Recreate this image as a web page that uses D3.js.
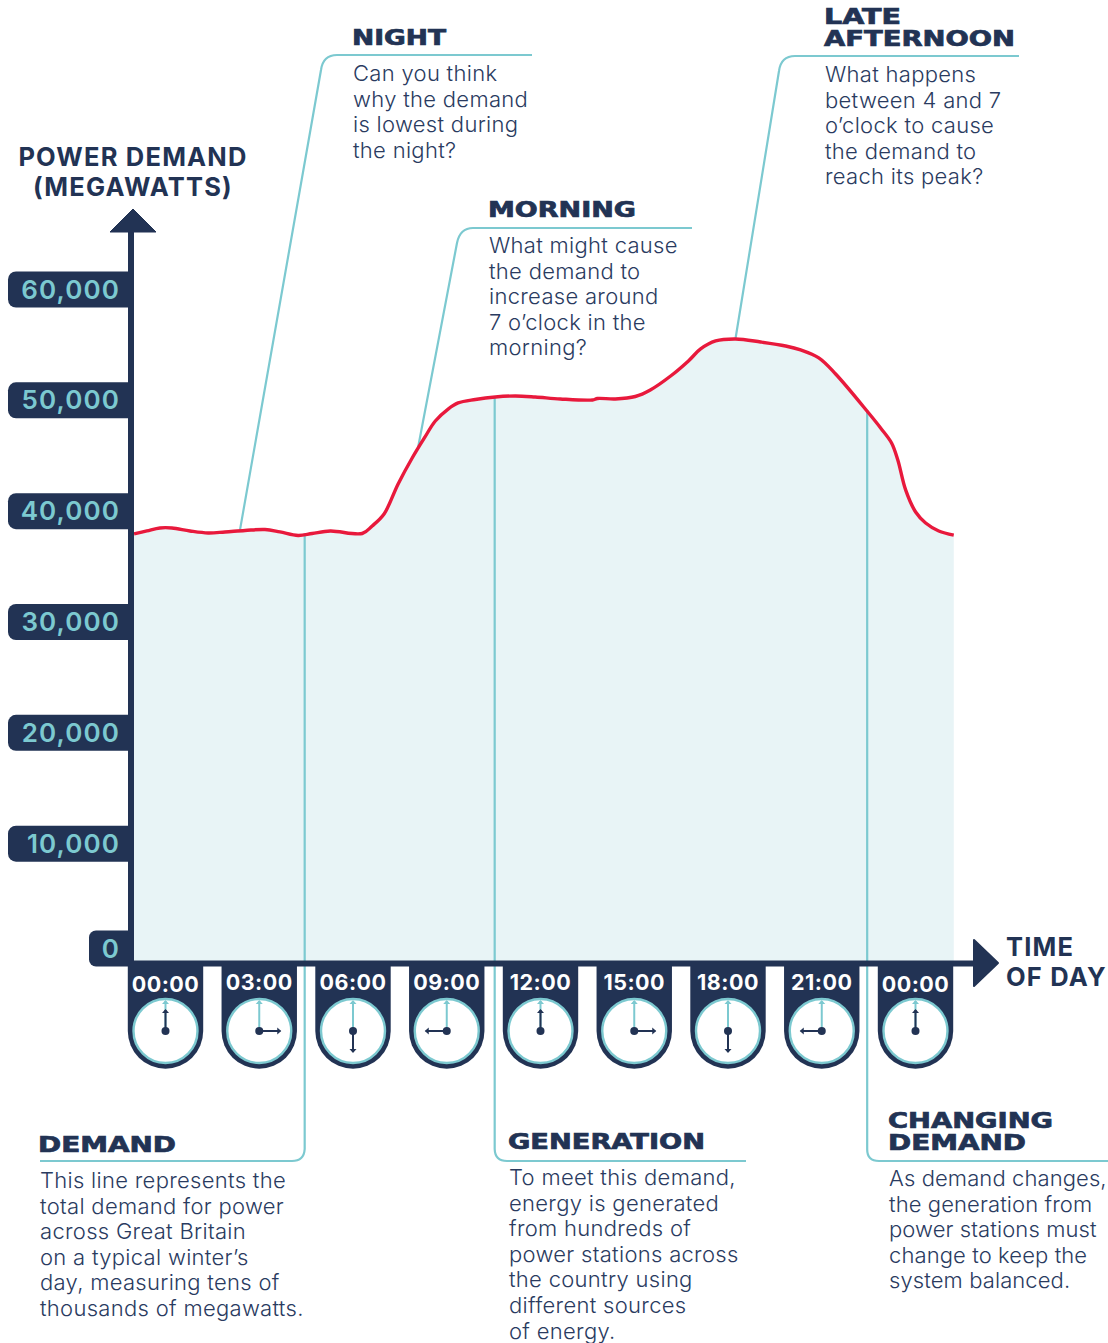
<!DOCTYPE html>
<html>
<head>
<meta charset="utf-8">
<script src="https://cdn.jsdelivr.net/npm/d3@7"></script>
<style>
    html, body { margin: 0; padding: 0; background: #fff; }
    svg { display: block; }
    text { font-family: Inter, "Open Sans", sans-serif; }
    .body { font-size: 22px; font-weight: 300; fill: #2a3b5f; letter-spacing: 0.3px; }
    .head { font-family: "DejaVu Sans"; font-size: 20.5px; font-weight: 700; fill: #223354; stroke: #223354; stroke-width: 0.7px; }
    .title { font-size: 25.5px; font-weight: 700; fill: #223354; letter-spacing: 1.2px; }
</style>
</head>
<body>
<div id="chart"></div>
<script>
// hours past midnight (the curve starts before 00:00 and runs past the second 00:00)
const hours = [-0.99, -0.58, -0.16, 0.22, 0.8, 1.38, 1.92, 2.56, 3.2, 3.68, 4.26, 4.71, 5.29, 6.31, 6.63, 7.01,
    7.46, 7.91, 8.3, 8.65, 9.06, 9.38, 9.93, 10.57, 11.21, 11.85, 12.65, 13.68, 13.84, 14.41, 15.05, 15.53,
    16.18, 16.75, 17.14, 17.62, 18.26, 19.06, 19.86, 20.34, 20.92, 21.46, 22.49, 22.9, 23.25, 23.45, 23.7,
    24.02, 24.34, 24.76, 25.24];
const demand = [37900, 38170, 38440, 38440, 38170, 37990, 38080, 38210, 38300, 38080, 37760, 37940, 38170, 37940,
    38620, 39700, 42410, 44750, 46560, 48090, 49170, 49720, 50030, 50260, 50350, 50260, 50080, 49990, 50120, 50080,
    50300, 50890, 52150, 53510, 54590, 55310, 55490, 55220, 54860, 54500, 53780, 52330, 48900, 47460, 46110, 44570,
    41870, 39880, 38890, 38170, 37800];

const yTicks = [0, 10000, 20000, 30000, 40000, 50000, 60000];
const xTicks = [0, 3, 6, 9, 12, 15, 18, 21, 24];
const xLabels = ["00:00", "03:00", "06:00", "09:00", "12:00", "15:00", "18:00", "21:00", "00:00"];

const nightText = ["Can you think", "why the demand", "is lowest during", "the night?"];
const morningText = ["What might cause", "the demand to", "increase around", "7 o\u2019clock in the", "morning?"];
const afternoonText = ["What happens", "between 4 and 7", "o\u2019clock to cause", "the demand to", "reach its peak?"];
const demandText = ["This line represents the", "total demand for power", "across Great Britain", "on a typical winter\u2019s", "day, measuring tens of", "thousands of megawatts."];
const generationText = ["To meet this demand,", "energy is generated", "from hundreds of", "power stations across", "the country using", "different sources", "of energy."];
const changingText = ["As demand changes,", "the generation from", "power stations must", "change to keep the", "system balanced."];

const navy = "#223354", teal = "#7cc9d0", red = "#e8193c", fill = "#e8f4f6";
const W = 1108, H = 1343;

const x = d3.scaleLinear().domain([0, 24]).range([165, 915]);
const y = d3.scaleLinear().domain([0, 60000]).range([954, 289]);
const baseY = 963;

const svg = d3.select("#chart").append("svg").attr("width", W).attr("height", H);

// demand area
const rows = hours.map((h, i) => ({ h: h, v: demand[i] }));
const curve = d3.curveCatmullRom.alpha(0.5);

svg.append("path").datum(rows)
    .attr("fill", fill)
    .attr("d", d3.area().x(d => x(d.h)).y0(baseY).y1(d => y(d.v)).curve(curve));

function valueAt(h) {
    let i = d3.bisector(d => d.h).left(rows, h);
    let a = rows[i - 1], b = rows[i];
    return a.v + (b.v - a.v) * (h - a.h) / (b.h - a.h);
}

// callout leader lines, each starts on the curve
function leader(h, rest) {
    svg.append("path")
        .attr("fill", "none").attr("stroke", teal).attr("stroke-width", 2.2)
        .attr("d", "M" + x(h) + "," + (y(valueAt(h)) - 1) + rest);
}
leader(2.4, "L321,70Q323,55 337,55H532");
leader(8.1, "L457,243Q460,228 473,228H692");
leader(18.26, "L779,71Q781,56 795,56H1019");
leader(4.47, "V1149Q304,1161 292,1161H40");
leader(10.55, "V1149Q495,1161 507,1161H746");
leader(22.47, "V1149Q867,1161 879,1161H1108");

// demand line
svg.append("path").datum(rows)
    .attr("fill", "none").attr("stroke", red).attr("stroke-width", 3.4)
    .attr("d", d3.line().x(d => x(d.h)).y(d => y(d.v)).curve(curve));

// y axis: line + arrow + pills
const yAxisG = svg.append("g").attr("transform", "translate(134,0)")
    .call(d3.axisLeft(y).tickValues(yTicks).tickSize(0).tickPadding(14).tickFormat(d3.format(",")));
yAxisG.select(".domain").remove();
yAxisG.selectAll(".tick").each(function (d) {
    let t = d3.select(this);
    if (d === 0) t.attr("transform", "translate(0,948.5)");
    t.insert("path", "text")
        .attr("fill", navy)
        .attr("d", d === 0
            ? "M0,-18H-38a7,7 0 0 0 -7,7V11a7,7 0 0 0 7,7H0Z"
            : "M0,-18H-118a8,8 0 0 0 -8,8V10a8,8 0 0 0 8,8H0Z");
    t.select("text")
        .attr("fill", teal)
        .style("font-family", "Inter")
        .style("font-size", "26px")
        .style("font-weight", 600)
        .style("letter-spacing", "1.1px")
        .attr("dy", "0.35em");
});
svg.append("rect").attr("x", 128).attr("y", 225).attr("width", 6).attr("height", 741).attr("fill", navy);
svg.append("path").attr("fill", navy).attr("stroke", navy).attr("stroke-linejoin", "round")
    .attr("d", "M110,232L133,209L156,232Z");

// x axis with clock tabs
svg.append("rect").attr("x", 128).attr("y", 960.5).attr("width", 850).attr("height", 6).attr("fill", navy);
svg.append("path").attr("fill", navy).attr("stroke", navy).attr("stroke-linejoin", "round").attr("stroke-width", 2)
    .attr("d", "M974,940L998,963L974,986Z");

const xAxisG = svg.append("g").attr("transform", "translate(0,966)")
    .call(d3.axisBottom(x).tickValues(xTicks).tickSize(0).tickPadding(0).tickFormat((d, i) => xLabels[i]));
xAxisG.select(".domain").remove();
xAxisG.selectAll(".tick").each(function (d, i) {
    let t = d3.select(this);
    const edge = i === 0 || i === xTicks.length - 1;
    t.insert("path", "text").attr("fill", navy)
        .attr("d", "M-37.7,-2H37.7V65a37.7,37.7 0 0 1 -75.4,0Z");
    t.select("text")
        .attr("fill", "#fff")
        .attr("y", edge ? 18 : 16)
        .attr("dy", "0.35em")
        .style("font-family", "Inter")
        .style("font-size", "21.5px")
        .style("font-weight", 700)
        .style("letter-spacing", "0.5px");

    // clock face
    const cy = 65;
    t.append("circle").attr("cy", cy).attr("r", 32).attr("fill", "#fff").attr("stroke", teal).attr("stroke-width", 2.4);
    hand(t, 0, 30, teal, 2);
    hand(t, (d % 12) * 30, 21, navy, 2);
    t.append("circle").attr("cy", cy).attr("r", 4).attr("fill", navy);
});

function hand(t, deg, len, col, sw) {
    let g = t.append("g").attr("transform", "translate(0,65) rotate(" + deg + ")");
    g.append("line").attr("y2", -len).attr("stroke", col).attr("stroke-width", sw);
    g.append("path").attr("fill", col).attr("d", "M0," + (-len - 1) + "l3.5,4h-7Z");
}

// axis titles
function title(lines, px, py, anchor) {
    let t = svg.append("text").attr("class", "title").attr("text-anchor", anchor);
    lines.forEach((s, i) => t.append("tspan").attr("x", px).attr("y", py + i * 30).text(s));
}
title(["POWER DEMAND", "(MEGAWATTS)"], 133, 166, "middle");
title(["TIME", "OF DAY"], 1006, 956, "start");

// callout headings and copy
function heading(s, px, py, w) {
    svg.append("text").attr("class", "head").attr("x", px).attr("y", py)
        .attr("textLength", w).attr("lengthAdjust", "spacingAndGlyphs").text(s);
}
function copy(lines, px, py, spacing) {
    let t = svg.append("text").attr("class", "body");
    if (spacing !== undefined) t.style("letter-spacing", spacing + "px");
    lines.forEach((s, i) => t.append("tspan").attr("x", px).attr("y", py + i * 25.6).text(s));
}
heading("NIGHT", 352, 45, 94);
copy(nightText, 353, 81);
heading("MORNING", 488, 217, 148);
copy(morningText, 489, 253);
heading("LATE", 824, 24, 77);
heading("AFTERNOON", 824, 46, 191);
copy(afternoonText, 825, 82);
heading("DEMAND", 38, 1152, 138);
copy(demandText, 40, 1188);
heading("GENERATION", 508, 1149, 197);
copy(generationText, 509, 1185);
heading("CHANGING", 888, 1128, 165);
heading("DEMAND", 888, 1150, 138);
// this block reaches the right edge of the page, so it gets tighter spacing
copy(changingText, 889, 1186, 0.1);
</script>
</body>
</html>
